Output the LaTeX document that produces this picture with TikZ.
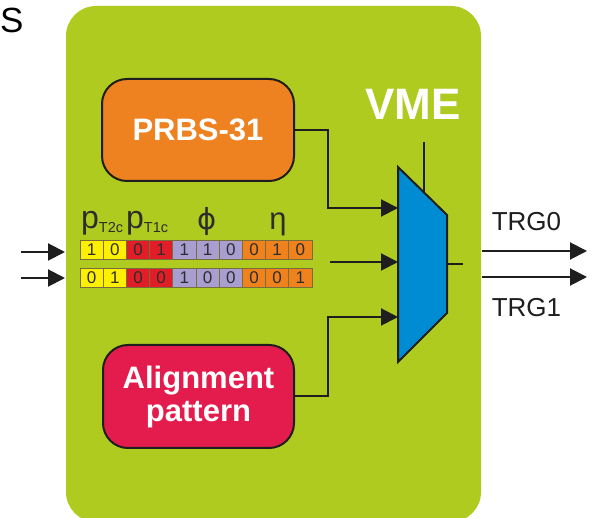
\documentclass[tikz,border=0pt]{standalone}
\usepackage{fontspec}
\setmainfont{Liberation Sans}
\newfontfamily\greekfont{DejaVu Sans}
\usetikzlibrary{arrows.meta}
\definecolor{boardgreen}{RGB}{175,203,31}
\definecolor{prbsorange}{RGB}{239,130,32}
\definecolor{aligncrimson}{RGB}{228,27,77}
\definecolor{muxblue}{RGB}{0,140,210}
\definecolor{cyel}{RGB}{255,240,0}
\definecolor{cred}{RGB}{225,30,40}
\definecolor{clav}{RGB}{168,158,208}
\definecolor{corg}{RGB}{240,130,30}
\definecolor{ink}{RGB}{30,30,30}
\definecolor{txtgray}{RGB}{45,45,45}
\definecolor{cellline}{RGB}{120,110,60}
\begin{document}
\begin{tikzpicture}[x=1pt,y=-1pt,
  blk/.style={draw=ink,line width=2pt,rounded corners=25pt,text=white,
    font=\bfseries\fontsize{31}{33}\selectfont,align=center,inner sep=0pt,outer sep=0pt},
  conn/.style={draw=ink,line width=2pt},
  arr/.style={conn,-{Triangle[length=17pt,width=17pt]}},
  cell/.style={draw=cellline,line width=0.7pt,minimum width=23.2pt,minimum height=19pt,
    inner sep=0pt,outer sep=0pt,text=txtgray,font=\fontsize{17}{17}\selectfont},
  lbl/.style={inner sep=0pt,text=txtgray},
  trg/.style={inner sep=0pt,text=ink,font=\fontsize{26}{26}\selectfont}]
\useasboundingbox (0,0) rectangle (592,518);
\fill[white] (0,0) rectangle (592,518);
% board
\node[fill=boardgreen,rounded corners=30pt,minimum width=415pt,minimum height=516pt,
  anchor=north west,inner sep=0pt,outer sep=0pt] (board) at (66,6) {};
\node[anchor=base west,inner sep=0pt,text=black,font=\fontsize{35}{35}\selectfont] (s) at (0,33) {S};
% blocks
\node[blk,fill=prbsorange,minimum width=192pt,minimum height=102pt] (prbs) at (198,130) {PRBS-31};
\node[blk,fill=aligncrimson,minimum width=191pt,minimum height=103pt] (align) at (198.5,396.5) {Alignment\\pattern};
% VME label
\node[inner sep=0pt,text=white,font=\bfseries\fontsize{44}{44}\selectfont] (vme) at (413,104) {VME};
% mux
\coordinate (in1) at (398,208);
\coordinate (in2) at (398,262);
\coordinate (in3) at (398,317);
\coordinate (muxout) at (447,264);
\coordinate (muxstub) at (463,264);
\coordinate (seltop) at (424,142);
\coordinate (selbot) at (424,192.5);
\draw[conn] (seltop) -- (selbot);
\draw[line width=2pt,draw=ink,fill=muxblue,line join=miter] (398,167) -- (447,215) -- (447,313) -- (398,362) -- cycle;
\draw[conn] (muxout) -- (muxstub);
% connectors into mux
\draw[arr] (prbs.east) -- ++(34,0) |- (in1);
\coordinate (midsrc) at (330,262);
\draw[arr] (midsrc) -- (in2);
\draw[arr] (align.east) -- ++(34,0) |- (in3);
% input arrows
\coordinate (i0s) at (21,252); \coordinate (i0e) at (65,252);
\coordinate (i1s) at (21,278); \coordinate (i1e) at (65,278);
\draw[arr] (i0s) -- (i0e);
\draw[arr] (i1s) -- (i1e);
% output arrows
\coordinate (o0s) at (482,251); \coordinate (o0e) at (587,251);
\coordinate (o1s) at (482,277); \coordinate (o1e) at (587,277);
\draw[arr] (o0s) -- (o0e);
\draw[arr] (o1s) -- (o1e);
\node[trg] (trg0) at (526.5,222) {TRG0};
\node[trg] (trg1) at (526.5,308) {TRG1};
% bit cells
\foreach \b/\c [count=\i] in {1/cyel,0/cyel,0/cred,1/cred,1/clav,1/clav,0/clav,0/corg,1/corg,0/corg}
  \node[cell,fill=\c] (ra\i) at ({80+23.2*(\i-0.5)},249.5) {\b};
\foreach \b/\c [count=\i] in {0/cyel,1/cyel,0/cred,0/cred,1/clav,0/clav,0/clav,0/corg,0/corg,1/corg}
  \node[cell,fill=\c] (rb\i) at ({80+23.2*(\i-0.5)},277.5) {\b};
% field labels
\node[lbl,anchor=base west,font=\fontsize{32}{32}\selectfont] (pt2) at (81,229)
  {p\raisebox{-4pt}{\fontsize{14.5}{14.5}\selectfont T2c}};
\node[lbl,anchor=base west,font=\fontsize{32}{32}\selectfont] (pt1) at (126,229)
  {p\raisebox{-4pt}{\fontsize{14.5}{14.5}\selectfont T1c}};
\node[lbl,anchor=base,font=\greekfont\fontsize{29}{29}\selectfont] (phi) at (207,230) {ϕ};
\node[lbl,anchor=base,font=\fontsize{31}{31}\selectfont] (eta) at (278,230) {η};
\end{tikzpicture}
\end{document}
